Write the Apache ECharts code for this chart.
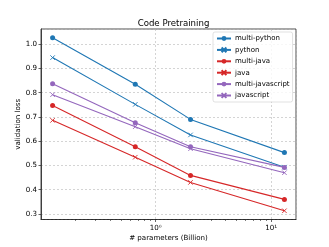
<!DOCTYPE html>
<html><head><meta charset="utf-8">
<script src="https://cdn.jsdelivr.net/npm/echarts@6/dist/echarts.min.js"></script>
<style>html,body{margin:0;padding:0;background:#fff}#c{width:329px;height:247px}</style>
</head><body><div id="c"></div>
<script>
const params = [0.128, 0.665, 2, 13];
const seriesNames = ['multi-python','python','multi-java','java','multi-javascript','javascript'];
const multiPython = [1.027, 0.835, 0.690, 0.553];
const python = [0.945, 0.752, 0.626, 0.493];
const multiJava = [0.747, 0.577, 0.459, 0.360];
const java = [0.686, 0.534, 0.430, 0.313];
const multiJs = [0.837, 0.676, 0.577, 0.492];
const js = [0.792, 0.660, 0.569, 0.470];
const xTickLabels = {1: '10⁰', 10: '10¹'};
const xMinorTicks = [0.2, 0.3, 0.4, 0.5, 0.6, 0.7, 0.8, 0.9, 2, 3, 4, 5, 6, 7, 8, 9];

const values = [multiPython, python, multiJava, java, multiJs, js];
const colors = ['#1f77b4','#1f77b4','#d62728','#d62728','#9467bd','#9467bd'];
const xPath = 'path://M0,0L10,10M10,0L0,10';
const font = 'DejaVu Sans';

const series = seriesNames.map((n, i) => {
  const isMulti = i % 2 === 0;
  return {
    name: n, type: 'line',
    data: params.map((p, k) => [p, values[i][k]]),
    symbol: isMulti ? 'circle' : xPath,
    symbolSize: isMulti ? 5 : 4.5,
    showSymbol: true,
    lineStyle: {color: colors[i], width: 1.1},
    itemStyle: isMulti ? {color: colors[i]} : {color: colors[i], borderColor: colors[i], borderWidth: 0.9},
    color: colors[i],
    z: 3
  };
});

const chart = echarts.init(document.getElementById('c'), null, {renderer: 'canvas'});
chart.setOption({
  animation: false,
  backgroundColor: '#fff',
  textStyle: {fontFamily: font},
  title: {
    text: 'Code Pretraining', left: 168.5, top: 14, textAlign: 'center',
    textStyle: {fontFamily: font, fontSize: 8.6, fontWeight: 'normal', color: '#000'}
  },
  grid: {left: 41, right: 33, top: 29, bottom: 27, show: true, borderColor: '#222', borderWidth: 0.8, backgroundColor: 'transparent'},
  legend: {
    orient: 'vertical', left: 213, top: 32,
    padding: [3, 3, 3, 3],
    itemWidth: 14, itemHeight: 6, itemGap: 4.4,
    backgroundColor: 'rgba(255,255,255,0.8)', borderColor: '#cccccc', borderWidth: 0.6, borderRadius: 2,
    textStyle: {fontFamily: font, fontSize: 7, color: '#000', lineHeight: 6, padding: [0,0,0,-1]},
    data: seriesNames
  },
  xAxis: [{
    type: 'log', logBase: 10, min: 0.1016, max: 16.37,
    name: '# parameters (Billion)', nameLocation: 'middle', nameGap: 15.5, nameMoveOverlap: false,
    nameTextStyle: {fontFamily: font, fontSize: 7.1, color: '#000'},
    axisLine: {show: true, lineStyle: {color: '#222', width: 0.8}},
    axisTick: {show: true, length: 2.5, lineStyle: {color: '#222', width: 0.7}},
    axisLabel: {
      showMinLabel: false, showMaxLabel: false, margin: 5.5,
      fontFamily: font, fontSize: 7.1, color: '#000',
      formatter: v => xTickLabels[Math.round(v)] && Math.abs(v - Math.round(v)) < 1e-6 ? xTickLabels[Math.round(v)] : ''
    },
    splitLine: {show: true, lineStyle: {color: '#b8b8b8', width: 0.6, type: [2, 2]}},
    minorTick: {show: false}
  }, {
    type: 'log', logBase: 10, min: 0.1016, max: 16.37, position: 'bottom', gridIndex: 0,
    axisLine: {show: false},
    axisTick: {show: true, length: 1.5, customValues: xMinorTicks, lineStyle: {color: '#222', width: 0.6}},
    axisLabel: {show: false},
    splitLine: {show: false}
  }],
  yAxis: {
    type: 'value', min: 0.277, max: 1.063, splitNumber: 8,
    name: 'validation loss', nameLocation: 'middle', nameGap: 19, nameRotate: 90, nameMoveOverlap: false,
    nameTextStyle: {fontFamily: font, fontSize: 7.1, color: '#000'},
    axisLine: {show: true, lineStyle: {color: '#222', width: 0.8}},
    axisTick: {show: true, length: 2.5, lineStyle: {color: '#222', width: 0.7}},
    axisLabel: {
      showMinLabel: false, showMaxLabel: false, margin: 4,
      fontFamily: font, fontSize: 7.1, color: '#000',
      formatter: v => v.toFixed(1)
    },
    splitLine: {show: true, lineStyle: {color: '#b8b8b8', width: 0.6, type: [2, 2]}}
  },
  series: series
});
</script></body></html>
